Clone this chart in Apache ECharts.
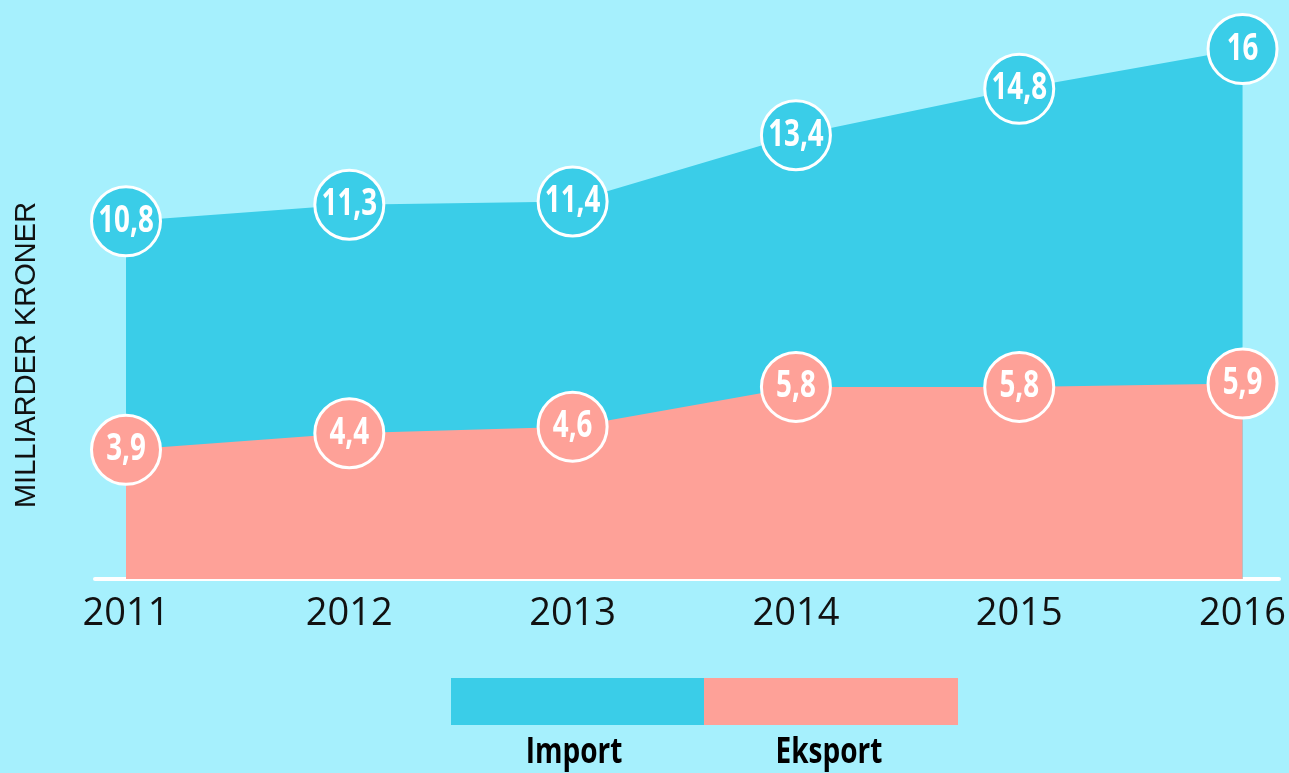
<!DOCTYPE html>
<html>
<head>
<meta charset="utf-8">
<script src="https://cdn.jsdelivr.net/npm/echarts@6/dist/echarts.min.js"></script>
<style>
  html, body { margin: 0; padding: 0; background: #a6f0fd; }
  #chart { width: 1289px; height: 773px; }
</style>
</head>
<body>
<div id="chart"></div>
<script>
// Årstall og verdier (milliarder kroner)
const years = ['2011', '2012', '2013', '2014', '2015', '2016'];
const importValues = [10.8, 11.3, 11.4, 13.4, 14.8, 16];
const eksportValues = [3.9, 4.4, 4.6, 5.8, 5.8, 5.9];
const seriesNames = ['Import', 'Eksport'];
const axisTitle = 'MILLIARDER KRONER';

const IMPORT_COLOR = '#3acde8';
const EKSPORT_COLOR = '#fea198';
const BG = '#a6f0fd';
const BOLD_FONT = "'Open Sans', 'Noto Sans', sans-serif";

const commaFmt = v => String(v).replace('.', ',');

// Filled area from zero for one series
function areaSeries(name, values, color, z) {
  return {
    name: name,
    type: 'line',
    xAxisIndex: 0,
    yAxisIndex: 0,
    data: values,
    symbol: 'none',
    lineStyle: { width: 0, color: color },
    itemStyle: { color: color },
    areaStyle: { color: color, opacity: 1, origin: 'start' },
    emphasis: { disabled: true },
    silent: true,
    z: z
  };
}

// Round value badges: white-ringed circle with a condensed bold number
function badgeSeries(name, values, color) {
  return {
    name: name,
    type: 'custom',
    coordinateSystem: 'cartesian2d',
    xAxisIndex: 0,
    yAxisIndex: 0,
    data: values.map((v, i) => [i, v]),
    z: 5,
    silent: true,
    renderItem: function (params, api) {
      const v = api.value(1);
      const pt = api.coord([api.value(0), v]);
      return {
        type: 'group',
        children: [
          {
            type: 'circle',
            shape: { cx: pt[0], cy: pt[1], r: 34.5 },
            style: { fill: color, stroke: '#ffffff', lineWidth: 3 }
          },
          {
            type: 'text',
            x: pt[0],
            y: pt[1],
            scaleX: 0.75,
            style: {
              text: commaFmt(v),
              fill: '#ffffff',
              font: 'bold 37px ' + BOLD_FONT,
              align: 'center',
              verticalAlign: 'middle'
            }
          }
        ]
      };
    }
  };
}

const chart = echarts.init(document.getElementById('chart'), null, { renderer: 'canvas' });
chart.setOption({
  backgroundColor: BG,
  animation: false,
  grid: [
    { left: 126, right: 44, top: 16, bottom: 194 },
    { left: 95, right: 10, top: 131, bottom: 194 }
  ],
  xAxis: [
    {
      type: 'category',
      gridIndex: 0,
      data: years,
      boundaryGap: false,
      axisLine: { show: false },
      axisTick: { show: false },
      axisLabel: {
        color: '#111111',
        fontFamily: "'Open Sans', sans-serif",
        fontSize: 38,
        margin: 16
      },
      splitLine: { show: false }
    },
    {
      type: 'value',
      gridIndex: 1,
      min: 0,
      max: 1,
      axisLine: { show: true, lineStyle: { color: '#ffffff', width: 4 } },
      axisTick: { show: false },
      axisLabel: { show: false },
      splitLine: { show: false }
    }
  ],
  yAxis: [
    {
      type: 'value',
      gridIndex: 0,
      min: 0,
      max: 17,
      axisLine: { show: false },
      axisTick: { show: false },
      axisLabel: { show: false },
      splitLine: { show: false }
    },
    {
      type: 'value',
      gridIndex: 1,
      min: 0,
      max: 1,
      name: axisTitle,
      nameLocation: 'middle',
      nameGap: 54,
      nameTextStyle: {
        color: '#111111',
        fontFamily: "'Liberation Sans', Arial, sans-serif",
        fontSize: 29
      },
      axisLine: { show: false },
      axisTick: { show: false },
      axisLabel: { show: false },
      splitLine: { show: false }
    }
  ],
  legend: [
    {
      data: [seriesNames[0]],
      left: 451, top: 678,
      padding: 0,
      icon: 'rect',
      itemWidth: 253, itemHeight: 47,
      itemStyle: { borderWidth: 0 },
      formatter: () => '',
      selectedMode: false
    },
    {
      data: [seriesNames[1]],
      left: 704, top: 678,
      padding: 0,
      icon: 'rect',
      itemWidth: 254, itemHeight: 47,
      itemStyle: { borderWidth: 0 },
      formatter: () => '',
      selectedMode: false
    }
  ],
  graphic: [
    {
      type: 'text', x: 574, y: 753, scaleX: 0.8,
      style: {
        text: seriesNames[0], fill: '#000000', align: 'center', verticalAlign: 'middle',
        font: 'bold 35px ' + BOLD_FONT
      }
    },
    {
      type: 'text', x: 829, y: 753, scaleX: 0.8,
      style: {
        text: seriesNames[1], fill: '#000000', align: 'center', verticalAlign: 'middle',
        font: 'bold 35px ' + BOLD_FONT
      }
    }
  ],
  series: [
    areaSeries(seriesNames[0], importValues, IMPORT_COLOR, 2),
    areaSeries(seriesNames[1], eksportValues, EKSPORT_COLOR, 3),
    badgeSeries('Import verdi', importValues, IMPORT_COLOR),
    badgeSeries('Eksport verdi', eksportValues, EKSPORT_COLOR)
  ]
});
</script>
</body>
</html>
